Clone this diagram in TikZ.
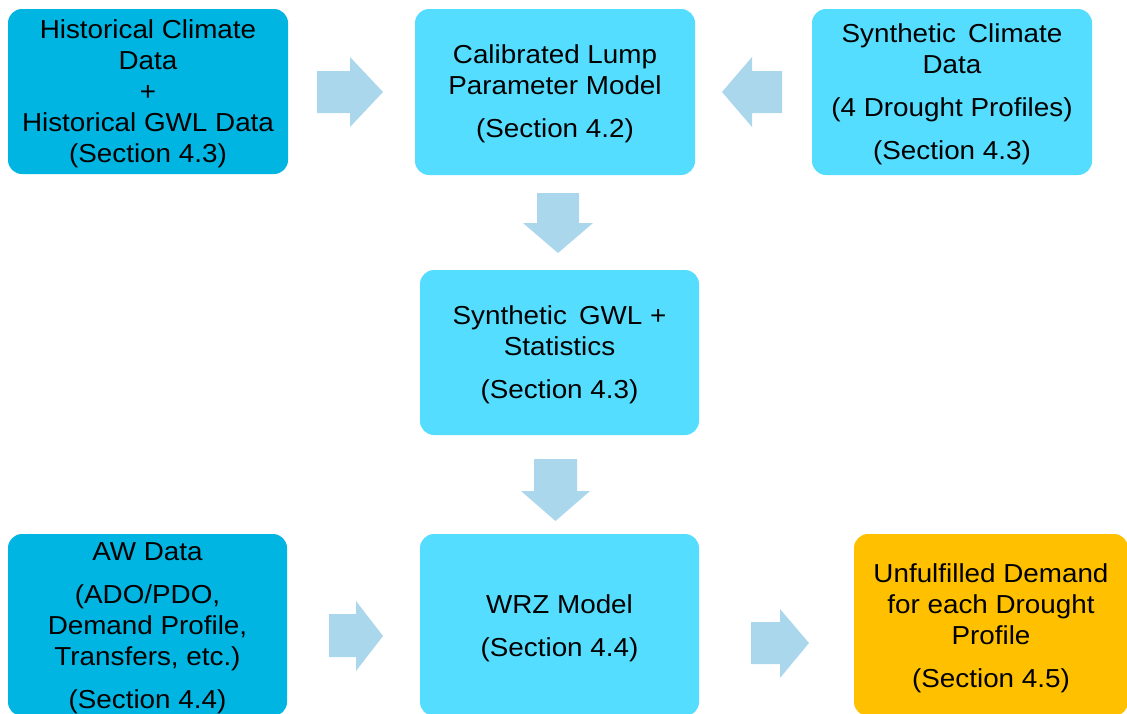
\documentclass[tikz,border=0pt]{standalone}
\usepackage{fontspec}
\setmainfont[FakeStretch=1.07]{Liberation Sans}
\definecolor{deepcyan}{HTML}{00B5E2}
\definecolor{lightcyan}{HTML}{55DDFF}
\definecolor{amber}{HTML}{FFC000}
\definecolor{arrowblue}{HTML}{ABD7ED}
\tikzset{
  box/.style={rounded corners=14pt, inner sep=0pt},
  srcbox/.style={box, fill=deepcyan},
  stepbox/.style={box, fill=lightcyan},
  resultbox/.style={box, fill=amber},
  boxtext/.style={inner sep=0pt, align=center,
    font=\fontsize{26}{31}\selectfont, text=black},
  blockarrow/.style={fill=arrowblue}
}
\newcommand{\gap}{\\[12pt]}
\begin{document}
\begin{tikzpicture}[x=1pt,y=-1pt]
\useasboundingbox (0,0) rectangle (1127,713);
\clip (0,0) rectangle (1127,713);

% top row
\node[srcbox, minimum width=280pt, minimum height=165pt] (hist) at (148,91.5) {};
\node[boxtext] (hist-t) at ([yshift=-2.5pt]hist.center)
  {Historical Climate\\Data\\+\\Historical GWL Data\\(Section 4.3)};
\node[stepbox, minimum width=280pt, minimum height=166pt] (calib) at (555,92) {};
\node[boxtext] (calib-t) at ([yshift=-2pt]calib.center)
  {Calibrated Lump\\Parameter Model\gap(Section 4.2)};
\node[stepbox, minimum width=280pt, minimum height=166pt] (synclim) at (952,92) {};
\node[boxtext] (synclim-t) at ([yshift=-2pt]synclim.center)
  {Synthetic\, Climate\\Data\gap(4 Drought Profiles)\gap(Section 4.3)};

% middle
\node[stepbox, minimum width=279pt, minimum height=165pt] (syngwl) at (559.5,352.5) {};
\node[boxtext] (syngwl-t) at ([yshift=-2.5pt]syngwl.center)
  {Synthetic\, GWL +\\Statistics\gap(Section 4.3)};

% bottom row
\node[srcbox, minimum width=279pt, minimum height=182pt] (aw) at (147.5,625) {};
\node[boxtext] (aw-t) at ([yshift=-3pt]aw.center)
  {AW Data\gap(ADO/PDO,\\Demand Profile,\\Transfers, etc.)\gap(Section 4.4)};
\node[stepbox, minimum width=279pt, minimum height=182pt] (wrz) at (559.5,625) {};
\node[boxtext] (wrz-t) at ([yshift=-3.5pt]wrz.center)
  {WRZ Model\gap(Section 4.4)};
\node[resultbox, minimum width=274pt, minimum height=182pt] (unmet) at (991,625) {};
\node[boxtext] (unmet-t) at ([yshift=-3pt]unmet.center)
  {Unfulfilled Demand\\for each Drought\\Profile\gap(Section 4.5)};

% block arrows between the boxes
% hist -> calib
\fill[blockarrow] (317,71) -- (350,71) -- (350,57) -- (383,92) -- (350,127)
  -- (350,113) -- (317,113) -- cycle;
% synclim -> calib
\fill[blockarrow] (782,71) -- (752,71) -- (752,57) -- (722,92) -- (752,127)
  -- (752,113) -- (782,113) -- cycle;
% calib -> syngwl
\fill[blockarrow] (537,193) -- (579,193) -- (579,223) -- (593,223) -- (558,253)
  -- (523,223) -- (537,223) -- cycle;
% syngwl -> wrz
\fill[blockarrow] (534,459) -- (577,459) -- (577,491) -- (590,491) -- (555.5,521)
  -- (521,491) -- (534,491) -- cycle;
% aw -> wrz
\fill[blockarrow] (329,614) -- (356,614) -- (356,601) -- (383,636) -- (356,671)
  -- (356,657) -- (329,657) -- cycle;
% wrz -> unmet
\fill[blockarrow] (751,622) -- (780,622) -- (780,609) -- (809,643) -- (780,678)
  -- (780,664) -- (751,664) -- cycle;
\end{tikzpicture}
\end{document}
